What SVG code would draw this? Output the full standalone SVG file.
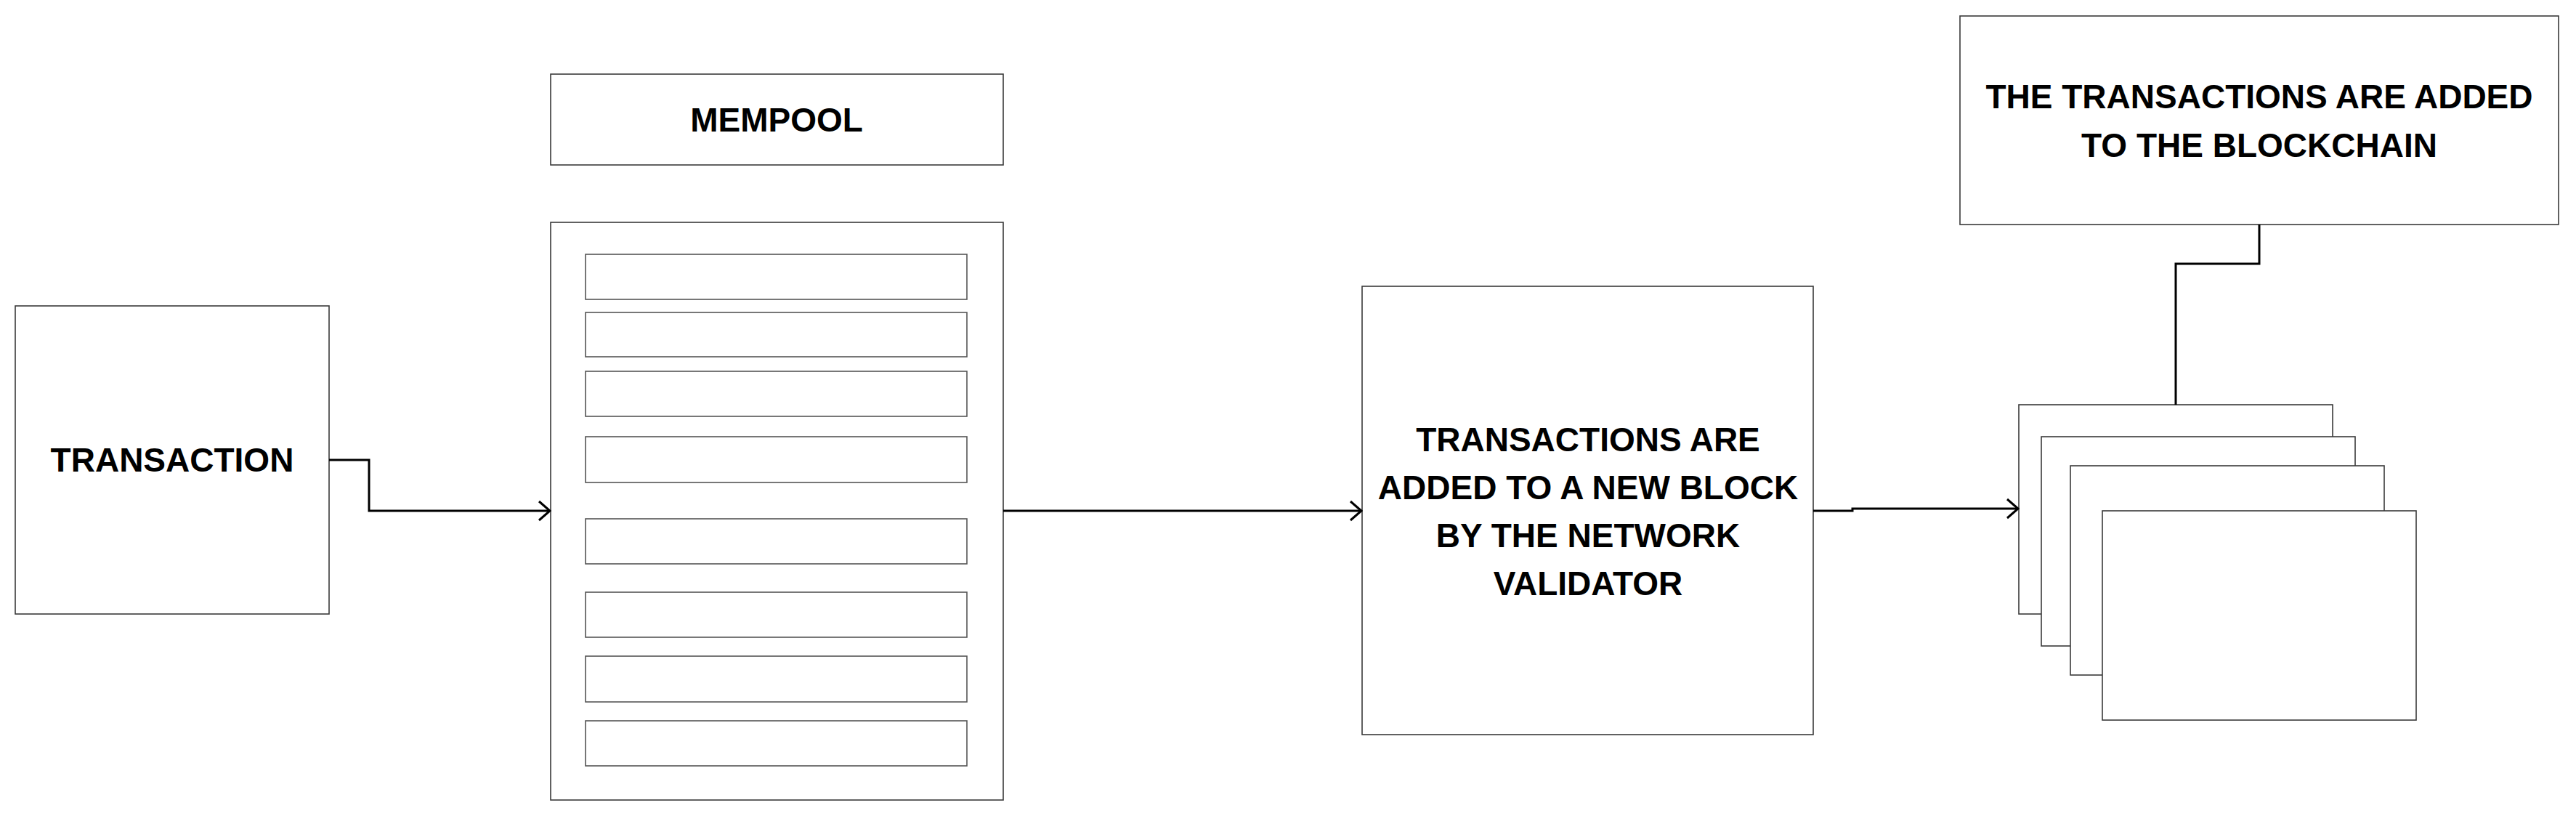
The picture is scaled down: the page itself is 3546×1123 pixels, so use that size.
<svg xmlns="http://www.w3.org/2000/svg" width="3546" height="1123" viewBox="0 0 3546 1123">
<style>
.box{fill:#fff;stroke:#3a3a3a;stroke-width:1.6}
.slot{fill:#fff;stroke:#555;stroke-width:1.6}
.lbl{font-family:"Liberation Sans",Arial,sans-serif;font-weight:bold;font-size:46px;fill:#000;text-anchor:middle}
.conn{fill:none;stroke:#000;stroke-width:3}
</style>
<defs>
<marker id="arr" markerUnits="userSpaceOnUse" viewBox="-18 -16 20 32" refX="0" refY="0" markerWidth="20" markerHeight="32" orient="auto">
<path d="M-15,-13 L0,0 L-15,13" fill="none" stroke="#000" stroke-width="3"/>
</marker>
</defs>
<rect width="3546" height="1123" fill="#fff"/>
<g id="transaction">
<rect class="box" x="21" y="421" width="432" height="424"/>
<text class="lbl" x="237" y="649">TRANSACTION</text>
</g>
<g id="mempool-label">
<rect class="box" x="758" y="102" width="623" height="125"/>
<text class="lbl" x="1069" y="181">MEMPOOL</text>
</g>
<g id="mempool">
<rect class="box" x="758" y="306" width="623" height="795"/>
<rect class="slot" x="806" y="350" width="525" height="62"/>
<rect class="slot" x="806" y="430" width="525" height="61"/>
<rect class="slot" x="806" y="511" width="525" height="62"/>
<rect class="slot" x="806" y="601" width="525" height="63"/>
<rect class="slot" x="806" y="714" width="525" height="62"/>
<rect class="slot" x="806" y="815" width="525" height="62"/>
<rect class="slot" x="806" y="903" width="525" height="63"/>
<rect class="slot" x="806" y="992" width="525" height="62"/>
</g>
<g id="validator">
<rect class="box" x="1875" y="394" width="621" height="617"/>
<text class="lbl" x="2186" y="621">TRANSACTIONS ARE</text>
<text class="lbl" x="2186" y="687">ADDED TO A NEW BLOCK</text>
<text class="lbl" x="2186" y="753">BY THE NETWORK</text>
<text class="lbl" x="2186" y="819">VALIDATOR</text>
</g>
<g id="blockchain-label">
<rect class="box" x="2698" y="22" width="824" height="287"/>
<text class="lbl" x="3110" y="149">THE TRANSACTIONS ARE ADDED</text>
<text class="lbl" x="3110" y="216">TO THE BLOCKCHAIN</text>
</g>
<g id="blocks">
<rect class="box" x="2779" y="557" width="432" height="288"/>
<rect class="box" x="2810" y="601" width="432" height="288"/>
<rect class="box" x="2850" y="641" width="432" height="288"/>
<rect class="box" x="2894" y="703" width="432" height="288"/>
</g>
<g id="connectors">
<path class="conn" d="M453,633 H508 V703 H757" marker-end="url(#arr)"/>
<path class="conn" d="M1381,703 H1874" marker-end="url(#arr)"/>
<path class="conn" d="M2496,703 H2550 V700 H2778" marker-end="url(#arr)"/>
<path class="conn" d="M3110,309 V363 H2995 V557"/>
</g>
</svg>
